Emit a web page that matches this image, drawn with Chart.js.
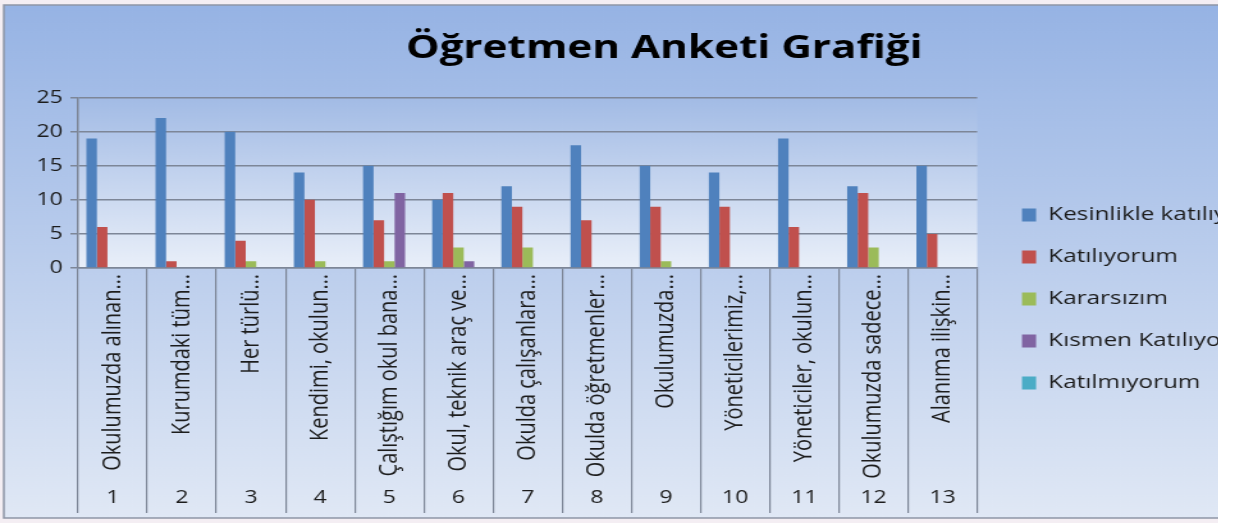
<!DOCTYPE html>
<html lang="tr">
<head>
<meta charset="utf-8">
<title>Öğretmen Anketi Grafiği</title>
<script src="https://cdn.jsdelivr.net/npm/chart.js@4.4.1/dist/chart.umd.min.js"></script>
<style>
  html, body { margin: 0; padding: 0; background: #fff; }
  #wrap { width: 1218px; height: 523px; overflow: hidden; }
  #anketChart { display: block; }
</style>
</head>
<body>
<!-- the source picture is stretched sideways, so the canvas is too (inline style so Chart.js keeps it) -->
<div id="wrap"><canvas id="anketChart" width="1040" height="523" style="width:1331px;height:523px"></canvas></div>
<script>
const questions = [
    'Okulumuzda alınan…',
    'Kurumdaki tüm…',
    'Her türlü…',
    'Kendimi, okulun…',
    'Çalıştığım okul bana…',
    'Okul, teknik araç ve…',
    'Okulda çalışanlara…',
    'Okulda öğretmenler…',
    'Okulumuzda…',
    'Yöneticilerimiz,…',
    'Yöneticiler, okulun…',
    'Okulumuzda sadece…',
    'Alanıma ilişkin…'
];
const questionNumbers = ['1', '2', '3', '4', '5', '6', '7', '8', '9', '10', '11', '12', '13'];

const kesinlikleKatiliyorum = [19, 22, 20, 14, 15, 10, 12, 18, 15, 14, 19, 12, 15];
const katiliyorum = [6, 1, 4, 10, 7, 11, 9, 7, 9, 9, 6, 11, 5];
const kararsizim = [0, 0, 1, 1, 1, 3, 3, 0, 1, 0, 0, 3, 0];
const kismenKatiliyorum = [0, 0, 0, 0, 11, 1, 0, 0, 0, 0, 0, 0, 0];
const katilmiyorum = [0, 0, 0, 0, 0, 0, 0, 0, 0, 0, 0, 0, 0];

const yMin = 0;
const yMax = 25;
const yStep = 5;

const gridColor = '#7d8697';
const textColor = '#1c1c1c';

// outer chart gradient + plot area gradient, like the old Excel style
const excelBackground = {
    id: 'excelBackground',
    beforeDraw(chart) {
        const { ctx, chartArea, width } = chart;
        ctx.save();
        ctx.fillStyle = '#f4eef3';
        ctx.fillRect(0, 0, width, chart.height);

        const outer = ctx.createLinearGradient(0, 5, 0, 518);
        outer.addColorStop(0, '#96b3e4');
        outer.addColorStop(1, '#e0e8f5');
        ctx.fillStyle = outer;
        ctx.fillRect(3, 5, width - 3, 513);
        ctx.strokeStyle = '#8e96a6';
        ctx.lineWidth = 1.5;
        ctx.strokeRect(3, 5, width, 513);

        const inner = ctx.createLinearGradient(0, chartArea.top, 0, chartArea.bottom);
        inner.addColorStop(0, '#a2bbe5');
        inner.addColorStop(1, '#e9eff9');
        ctx.fillStyle = inner;
        ctx.fillRect(chartArea.left, chartArea.top, chartArea.right - chartArea.left, chartArea.bottom - chartArea.top);
        ctx.restore();
    }
};

document.addEventListener('DOMContentLoaded', function () {
    const canvas = document.getElementById('anketChart');
    const ctx = canvas.getContext('2d');

    new Chart(ctx, {
        type: 'bar',
        data: {
            labels: questions,
            datasets: [
                { label: 'Kesinlikle katılıyorum', data: kesinlikleKatiliyorum, backgroundColor: '#4f81bd' },
                { label: 'Katılıyorum', data: katiliyorum, backgroundColor: '#c0504d' },
                { label: 'Kararsızım', data: kararsizim, backgroundColor: '#9bbb59' },
                { label: 'Kısmen Katılıyorum', data: kismenKatiliyorum, backgroundColor: '#8064a2' },
                { label: 'Katılmıyorum', data: katilmiyorum, backgroundColor: '#4bacc6' }
            ]
        },
        options: {
            responsive: false,
            animation: false,
            categoryPercentage: 0.76,
            barPercentage: 1.0,
            layout: { padding: { left: 21.5, right: 23.5, top: 0, bottom: 10 } },
            plugins: {
                title: {
                    display: true,
                    text: 'Öğretmen Anketi Grafiği',
                    color: '#000',
                    font: { family: 'Open Sans', size: 33, weight: 'bold' },
                    padding: { top: 29, bottom: 29 }
                },
                legend: {
                    position: 'right',
                    align: 'start',
                    maxWidth: 270,
                    title: { display: true, text: '', font: { size: 12 }, padding: { top: 168, bottom: 0 } },
                    labels: {
                        boxWidth: 11,
                        boxHeight: 13,
                        padding: 23,
                        color: textColor,
                        font: { family: 'Open Sans', size: 19 }
                    }
                },
                tooltip: { enabled: false }
            },
            scales: {
                x: {
                    position: 'bottom',
                    afterFit: function (scale) { scale.height = 215; },
                    border: { display: true, color: gridColor, width: 1.5 },
                    grid: {
                        offset: true,
                        drawOnChartArea: false,
                        drawTicks: true,
                        tickLength: 215,
                        color: gridColor,
                        lineWidth: 1.2
                    },
                    ticks: {
                        autoSkip: false,
                        minRotation: 90,
                        maxRotation: 90,
                        padding: -209,
                        color: textColor,
                        font: { family: 'Open Sans', size: 20 }
                    }
                },
                x2: {
                    type: 'category',
                    position: 'bottom',
                    labels: questionNumbers,
                    afterFit: function (scale) { scale.height = 30; },
                    border: { display: false },
                    grid: {
                        offset: true,
                        drawOnChartArea: false,
                        drawTicks: true,
                        tickLength: 30,
                        color: gridColor,
                        lineWidth: 1.2
                    },
                    ticks: {
                        autoSkip: false,
                        maxRotation: 0,
                        padding: -26,
                        color: textColor,
                        font: { family: 'Open Sans', size: 18 }
                    }
                },
                y: {
                    min: yMin,
                    max: yMax,
                    afterFit: function (scale) { scale.width = 39.5; },
                    border: { display: true, color: gridColor, width: 1.5 },
                    grid: { color: gridColor, lineWidth: 1.5, tickLength: 6 },
                    ticks: {
                        stepSize: yStep,
                        padding: 6,
                        color: textColor,
                        font: { family: 'Open Sans', size: 18 }
                    }
                },
                yGap: {
                    position: 'right',
                    afterFit: function (scale) { scale.width = 12; },
                    border: { display: false },
                    grid: { display: false },
                    ticks: { display: false }
                }
            }
        },
        plugins: [excelBackground]
    });
});
</script>
</body>
</html>
